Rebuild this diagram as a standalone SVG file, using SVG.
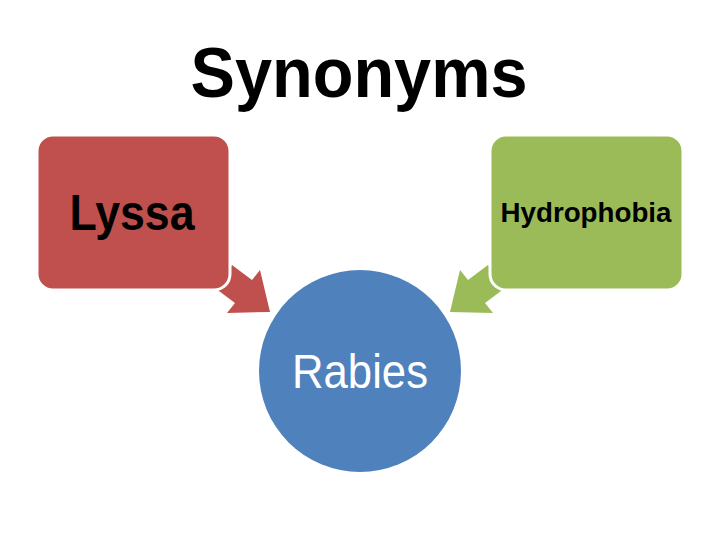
<svg xmlns="http://www.w3.org/2000/svg" width="720" height="540" viewBox="0 0 720 540">
<style>
.t{font-family:"Liberation Sans","Open Sans",sans-serif;}
.box{stroke:#fff;stroke-width:3;}
</style>
<rect width="720" height="540" fill="#fff"/>
<text class="t" x="359" y="97" font-size="70" font-weight="bold" text-anchor="middle" textLength="337" lengthAdjust="spacingAndGlyphs">Synonyms</text>
<g id="connectors">
<polygon fill="#C0504D" points="215,288 232,265 252,280 260,270 270,312 227,313 235,303"/>
<polygon fill="#9BBB59" points="505,288 488,265 468,280 460,270 450,312 493,313 485,303"/>
</g>
<g id="lyssa">
<rect class="box" x="37" y="135" width="193" height="155" rx="16" fill="#C0504D"/>
<text class="t" x="132" y="230" font-size="50" font-weight="bold" text-anchor="middle" textLength="125" lengthAdjust="spacingAndGlyphs" fill="#000">Lyssa</text>
</g>
<g id="hydrophobia">
<rect class="box" x="490" y="135" width="193" height="155" rx="16" fill="#9BBB59"/>
<text class="t" x="586" y="222" font-size="27" font-weight="bold" text-anchor="middle" textLength="171" lengthAdjust="spacingAndGlyphs" fill="#000">Hydrophobia</text>
</g>
<g id="rabies">
<circle cx="360" cy="371" r="101" fill="#4F81BD"/>
<text class="t" x="360" y="388" font-size="49" text-anchor="middle" textLength="136" lengthAdjust="spacingAndGlyphs" fill="#fff">Rabies</text>
</g>
</svg>
